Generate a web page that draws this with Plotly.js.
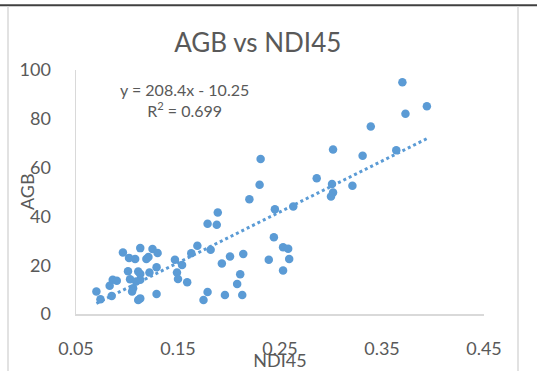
<!DOCTYPE html>
<html>
<head>
<meta charset="utf-8">
<script src="https://cdn.plot.ly/plotly-3.0.1.min.js"></script>
<style>
html,body{margin:0;padding:0;background:#fff;}
#chart{width:537px;height:371px;}
</style>
</head>
<body>
<div id="chart"></div>
<script>
// NDI45 values (x) and AGB values (y)
const ndi45 = [
  0.070, 0.074, 0.083, 0.085, 0.086, 0.090, 0.096, 0.102, 0.108, 0.101,
  0.103, 0.106, 0.105, 0.111, 0.113, 0.109, 0.113, 0.111, 0.113, 0.113,
  0.119, 0.121, 0.122, 0.125, 0.130, 0.129, 0.129,
  0.147, 0.149, 0.150, 0.154, 0.159, 0.163, 0.169, 0.179, 0.188, 0.189,
  0.182, 0.175, 0.179, 0.193, 0.196, 0.201, 0.208, 0.211, 0.213, 0.214,
  0.220, 0.231, 0.230, 0.239, 0.244, 0.245, 0.253, 0.258, 0.253, 0.259,
  0.263, 0.286, 0.302, 0.301, 0.302, 0.300, 0.321, 0.331, 0.339, 0.364,
  0.370, 0.373, 0.394
];
const agb = [
  9.2, 6.0, 11.6, 7.4, 14.0, 13.6, 25.2, 23.0, 22.5, 17.5,
  14.2, 10.6, 9.2, 5.7, 6.4, 13.3, 14.0, 17.4, 16.4, 27.0,
  22.5, 23.4, 17.0, 26.6, 25.0, 19.2, 8.2,
  22.2, 17.0, 14.3, 20.1, 13.0, 24.9, 28.0, 37.0, 36.6, 41.6,
  26.3, 5.7, 9.0, 20.7, 7.8, 23.6, 12.3, 16.3, 7.8, 24.6,
  47.0, 63.5, 53.0, 22.2, 31.5, 42.9, 27.4, 26.7, 17.8, 22.5,
  44.1, 55.6, 67.4, 53.3, 49.8, 48.2, 52.6, 64.9, 76.8, 67.1,
  95.0, 82.1, 85.1
];
// Linear trendline as stated on the chart
const slope = 208.4;
const intercept = -10.25;
const xTicks = [0.05, 0.15, 0.25, 0.35, 0.45];
const yTicks = [0, 20, 40, 60, 80, 100];

const xMin = Math.min(...ndi45), xMax = Math.max(...ndi45);
const trendX = [xMin, xMax];
const trendY = trendX.map(v => slope * v + intercept);

const blue = '#5B9BD5';
const txt = '#595959';
const font = 'Lato, "Open Sans", sans-serif';

const data = [
  {x: trendX, y: trendY, type: 'scatter', mode: 'lines',
   line: {color: blue, width: 3, dash: 'dot'}, hoverinfo: 'skip', showlegend: false},
  {x: ndi45, y: agb, type: 'scatter', mode: 'markers',
   marker: {color: blue, size: 8.5}, showlegend: false}
];

const layout = {
  width: 537, height: 371,
  margin: {l: 76, r: 53, t: 70, b: 57},
  paper_bgcolor: '#fff', plot_bgcolor: '#fff',
  font: {family: font, color: txt, size: 18},
  title: {text: 'AGB vs NDI45', font: {family: font, size: 26, color: txt},
          x: 0.48, xanchor: 'center', y: 1 - 43/371, yanchor: 'middle', yref: 'container'},
  xaxis: {range: [0.05, 0.45], tickvals: xTicks, ticktext: xTicks.map(v => v.toFixed(2)),
          showgrid: false, zeroline: false, showline: true, linecolor: '#d9d9d9', linewidth: 1.5,
          ticks: '', ticklabelstandoff: 18, tickfont: {size: 18, color: txt},
          title: {text: 'NDI45', font: {size: 18, color: txt}, standoff: 0}},
  yaxis: {range: [0, 100], tickvals: yTicks,
          showgrid: false, zeroline: false, showline: true, linecolor: '#d9d9d9', linewidth: 1.5,
          ticks: '', ticklabelstandoff: 20, tickfont: {size: 18, color: txt}},
  annotations: [{
    text: 'y = 208.4x - 10.25<br>R<sup>2</sup> = 0.699',
    xref: 'paper', yref: 'paper', x: (184 - 76) / 408, y: (314 - 100) / 243.5,
    xanchor: 'center', yanchor: 'middle', showarrow: false,
    font: {family: font, size: 16, color: txt}
  }, {
    text: 'AGB', textangle: -90,
    xref: 'paper', yref: 'paper', x: (27 - 76) / 408, y: 0.5,
    xanchor: 'center', yanchor: 'middle', showarrow: false,
    font: {family: font, size: 18, color: txt}
  }],
  shapes: [
    {type: 'line', xref: 'paper', yref: 'paper', x0: (0 - 76) / 408, x1: (537 - 76) / 408,
     y0: (314 - 6) / 243.5, y1: (314 - 6) / 243.5, line: {color: '#404040', width: 2}},
    {type: 'line', xref: 'paper', yref: 'paper', x0: (8 - 76) / 408, x1: (8 - 76) / 408,
     y0: (314 - 7) / 243.5, y1: (314 - 371) / 243.5, line: {color: '#d9d9d9', width: 1.5}},
    {type: 'line', xref: 'paper', yref: 'paper', x0: (518 - 76) / 408, x1: (518 - 76) / 408,
     y0: (314 - 7) / 243.5, y1: (314 - 371) / 243.5, line: {color: '#d9d9d9', width: 1.5}}
  ]
};

Plotly.newPlot('chart', data, layout, {staticPlot: true, displayModeBar: false});
</script>
</body>
</html>
